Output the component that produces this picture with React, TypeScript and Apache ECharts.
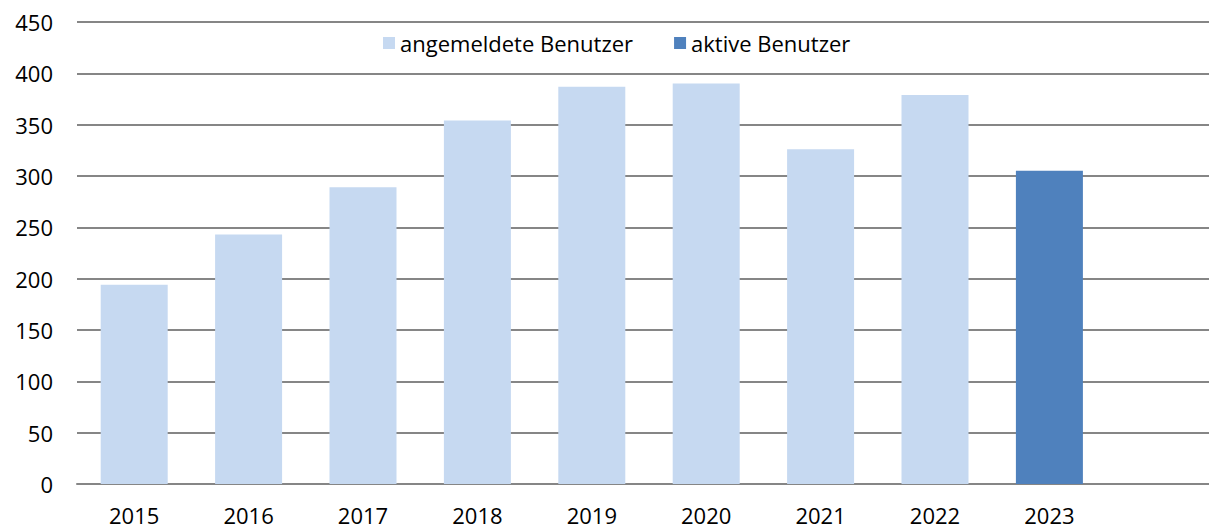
import React, { useEffect, useRef } from "react";
import * as echarts from "echarts";

const categories = ["2015", "2016", "2017", "2018", "2019", "2020", "2021", "2022", "2023", ""];
const registered = [194, 243, 289, 354, 387, 390, 326, 379, null, null];
const active = [null, null, null, null, null, null, null, null, 305, null];
const seriesNames = ["angemeldete Benutzer", "aktive Benutzer"];

export default function App() {
  const ref = useRef<HTMLDivElement>(null);
  useEffect(() => {
    if (!ref.current) return;
    const chart = echarts.init(ref.current, undefined, { renderer: "svg" });
    const font = "'Open Sans', 'Noto Sans', sans-serif";
    chart.setOption({
      animation: false,
      textStyle: { fontFamily: font },
      legend: {
        left: 378,
        top: 27,
        itemWidth: 12,
        itemHeight: 12,
        itemGap: 41,
        icon: "rect",
        textStyle: { fontSize: 22, color: "#000", fontFamily: font },
        data: seriesNames,
      },
      grid: { left: 77, top: 22, width: 1144, height: 462, containLabel: false },
      xAxis: {
        type: "category",
        data: categories,
        axisLine: { lineStyle: { color: "#868686", width: 2 } },
        axisTick: { show: false },
        axisLabel: { fontSize: 22, lineHeight: 22, color: "#000", margin: 20, fontFamily: font },
      },
      yAxis: {
        type: "value",
        min: 0,
        max: 450,
        interval: 50,
        axisLine: { show: false },
        axisTick: { show: false },
        axisLabel: { fontSize: 22, color: "#000", margin: 24, fontFamily: font },
        splitLine: { lineStyle: { color: "#868686", width: 2 } },
      },
      series: [
        {
          name: seriesNames[0],
          type: "bar",
          data: registered,
          barWidth: 67,
          barGap: "-100%",
          itemStyle: { color: "#C6D9F1" },
        },
        {
          name: seriesNames[1],
          type: "bar",
          data: active,
          barWidth: 67,
          barGap: "-100%",
          itemStyle: { color: "#4F81BD" },
        },
      ],
    });
    return () => chart.dispose();
  }, []);
  return (
    <div style={{ width: 1209, height: 529, position: "absolute", left: 0, top: 0, overflow: "hidden" }}>
      <div ref={ref} style={{ width: 1230, height: 529 }} />
    </div>
  );
}
